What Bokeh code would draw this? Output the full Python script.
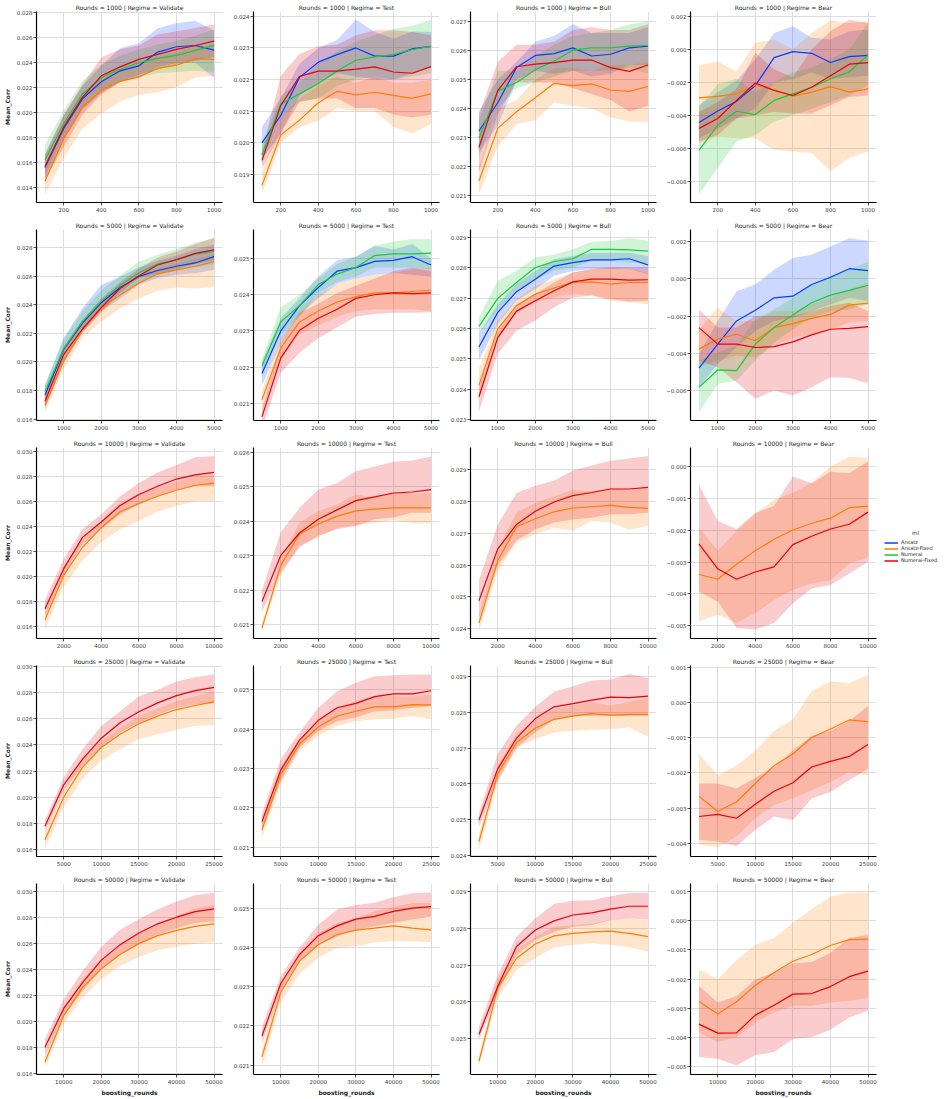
from bokeh.plotting import figure
from bokeh.layouts import gridplot
from bokeh.models import (Range1d, SingleIntervalTicker, FixedTicker,
                          CustomJSTickFormatter, Legend, LegendItem, Label)
from bokeh.embed import file_html
from bokeh.resources import INLINE

ROUNDS = [1000, 5000, 10000, 25000, 50000]
REGIMES = ["Validate", "Test", "Bull", "Bear"]
MODELS = ["Ansatz", "Ansatz-Fixed", "Numerai", "Numerai-Fixed"]
COLORS = {"Ansatz": "#023eff", "Ansatz-Fixed": "#ff7c00",
          "Numerai": "#1ac938", "Numerai-Fixed": "#e8000b"}

X_1000 = [100, 200, 300, 400, 500, 600, 700, 800, 900, 1000]
X_5000 = [500, 1000, 1500, 2000, 2500, 3000, 3500, 4000, 4500, 5000]
X_10000 = [1000, 2000, 3000, 4000, 5000, 6000, 7000, 8000, 9000, 10000]
X_25000 = [2500, 5000, 7500, 10000, 12500, 15000, 17500, 20000, 22500, 25000]
X_50000 = [5000, 10000, 15000, 20000, 25000, 30000, 35000, 40000, 45000, 50000]

XTICKS_1000 = [200, 400, 600, 800, 1000]
XTICKS_5000 = [1000, 2000, 3000, 4000, 5000]
XTICKS_10000 = [2000, 4000, 6000, 8000, 10000]
XTICKS_25000 = [5000, 10000, 15000, 20000, 25000]
XTICKS_50000 = [10000, 20000, 30000, 40000, 50000]

# ---------- Rounds = 1000 ----------
v1_ans_m = [0.01557, 0.01868, 0.02106, 0.02243, 0.0233, 0.0237, 0.0248, 0.02523, 0.02533, 0.02496]
v1_ans_lo = [0.01467, 0.01778, 0.02016, 0.02153, 0.0224, 0.0227, 0.0236, 0.02393, 0.02393, 0.02277]
v1_ans_hi = [0.0166, 0.0197, 0.0221, 0.0237, 0.0251, 0.0255, 0.0267, 0.0271, 0.0273, 0.0265]
v1_afx_m = [0.01446, 0.01789, 0.0204, 0.02172, 0.02246, 0.02283, 0.02349, 0.02375, 0.02428, 0.02422]
v1_afx_lo = [0.0134, 0.0163, 0.01868, 0.01987, 0.02085, 0.02137, 0.02158, 0.02198, 0.02277, 0.0229]
v1_afx_hi = [0.0155, 0.0190, 0.0215, 0.0228, 0.0235, 0.0238, 0.0245, 0.0248, 0.0253, 0.0253]
v1_num_m = [0.01617, 0.01908, 0.02145, 0.02277, 0.02343, 0.02396, 0.0243, 0.02454, 0.02494, 0.02536]
v1_num_lo = [0.0150, 0.0180, 0.0204, 0.0218, 0.0224, 0.0228, 0.0231, 0.0232, 0.0233, 0.0232]
v1_num_hi = [0.0174, 0.0201, 0.0225, 0.0238, 0.0245, 0.0250, 0.0254, 0.0257, 0.0261, 0.0266]
v1_nfx_m = [0.01564, 0.01881, 0.02119, 0.0229, 0.02362, 0.02422, 0.02462, 0.02502, 0.02533, 0.02568]
v1_nfx_lo = [0.0146, 0.0172, 0.0198, 0.0214, 0.0224, 0.0230, 0.0234, 0.0238, 0.0241, 0.0244]
v1_nfx_hi = [0.0166, 0.0198, 0.0222, 0.02436, 0.02502, 0.02533, 0.0262, 0.02647, 0.02673, 0.0270]

t1_ans_m = [0.0200, 0.02087, 0.02207, 0.02255, 0.02279, 0.0230, 0.02274, 0.02274, 0.02297, 0.02305]
t1_ans_lo = [0.0195, 0.0203, 0.0215, 0.0219, 0.0222, 0.0221, 0.0220, 0.0220, 0.0222, 0.0224]
t1_ans_hi = [0.0205, 0.0214, 0.0225, 0.0230, 0.02325, 0.0239, 0.0235, 0.0233, 0.02352, 0.0235]
t1_afx_m = [0.01866, 0.02025, 0.02072, 0.02127, 0.02163, 0.02152, 0.0216, 0.0215, 0.02141, 0.02155]
t1_afx_lo = [0.0184, 0.0200, 0.0205, 0.0207, 0.0211, 0.0210, 0.0210, 0.0205, 0.0203, 0.0206]
t1_afx_hi = [0.0191, 0.0208, 0.0214, 0.0218, 0.0221, 0.0219, 0.0221, 0.0219, 0.0219, 0.0220]
t1_num_m = [0.01962, 0.02123, 0.02155, 0.02188, 0.02227, 0.02261, 0.02272, 0.02279, 0.02295, 0.02305]
t1_num_lo = [0.0193, 0.0208, 0.0213, 0.0214, 0.0218, 0.0220, 0.0221, 0.0220, 0.0221, 0.0222]
t1_num_hi = [0.0199, 0.0215, 0.0219, 0.0225, 0.0229, 0.0232, 0.0234, 0.0236, 0.0237, 0.0239]
t1_nfx_m = [0.01945, 0.02118, 0.0221, 0.02227, 0.02227, 0.02233, 0.0224, 0.02224, 0.0222, 0.02241]
t1_nfx_lo = [0.0192, 0.0203, 0.0213, 0.0214, 0.0214, 0.0211, 0.0211, 0.0209, 0.0208, 0.0209]
t1_nfx_hi = [0.0197, 0.02212, 0.02281, 0.02305, 0.0231, 0.0234, 0.02356, 0.02356, 0.0235, 0.0234]

b1_ans_m = [0.02323, 0.0242, 0.02541, 0.02583, 0.02589, 0.02609, 0.02581, 0.02587, 0.02609, 0.02615]
b1_ans_lo = [0.0225, 0.0234, 0.0250, 0.0253, 0.0252, 0.0253, 0.0251, 0.0252, 0.0255, 0.0255]
b1_ans_hi = [0.0239, 0.0250, 0.0256, 0.0263, 0.0265, 0.0269, 0.0266, 0.0266, 0.0266, 0.0268]
b1_afx_m = [0.02151, 0.02332, 0.02389, 0.02437, 0.02487, 0.02479, 0.02485, 0.02464, 0.02459, 0.02476]
b1_afx_lo = [0.02105, 0.0227, 0.02347, 0.0236, 0.0242, 0.0241, 0.0240, 0.0237, 0.02355, 0.02355]
b1_afx_hi = [0.0220, 0.0240, 0.0243, 0.0250, 0.0254, 0.0254, 0.0253, 0.0255, 0.0255, 0.0256]
b1_num_m = [0.02298, 0.0246, 0.0249, 0.02534, 0.02564, 0.02601, 0.02609, 0.02609, 0.02615, 0.02617]
b1_num_lo = [0.0223, 0.0240, 0.0247, 0.0249, 0.0251, 0.0253, 0.0253, 0.0253, 0.0254, 0.0252]
b1_num_hi = [0.0236, 0.0253, 0.0253, 0.0258, 0.0262, 0.0265, 0.0266, 0.0267, 0.0269, 0.0270]
b1_nfx_m = [0.02266, 0.02462, 0.02544, 0.02553, 0.02558, 0.02567, 0.02567, 0.02541, 0.02528, 0.0255]
b1_nfx_lo = [0.0218, 0.0238, 0.0249, 0.0249, 0.0249, 0.0247, 0.0245, 0.0243, 0.0239, 0.0241]
b1_nfx_hi = [0.0238, 0.0256, 0.0262, 0.0262, 0.0263, 0.0267, 0.0268, 0.0267, 0.0267, 0.0269]

r1_ans_m = [-0.00444, -0.00374, -0.00316, -0.0022, -0.0005, -0.00014, -0.00024, -0.0008, -0.00044, -0.00036]
r1_ans_lo = [-0.0054, -0.0048, -0.0042, -0.0036, -0.0020, -0.0018, -0.0014, -0.0018, -0.0017, -0.0016]
r1_ans_hi = [-0.0034, -0.0026, -0.0019, -0.0006, 0.0010, 0.0014, 0.0007, 0.0006, 0.0011, 0.0012]
r1_afx_m = [-0.00294, -0.00286, -0.0027, -0.00216, -0.00246, -0.00284, -0.0026, -0.00226, -0.0026, -0.0024]
r1_afx_lo = [-0.0057, -0.0053, -0.0054, -0.0054, -0.0061, -0.0062, -0.0063, -0.0074, -0.0066, -0.0062]
r1_afx_hi = [-0.00096, -0.00074, -0.00136, 0.0004, 0.0006, 0.0, 0.0010, 0.00176, 0.0016, 0.0017]
r1_num_m = [-0.00614, -0.0046, -0.00376, -0.00396, -0.0031, -0.0027, -0.0023, -0.0018, -0.00136, -0.00036]
r1_num_lo = [-0.0088, -0.0072, -0.0056, -0.0052, -0.0044, -0.0040, -0.0036, -0.0032, -0.0028, -0.0022]
r1_num_hi = [-0.0035, -0.0021, -0.0018, -0.0026, -0.0020, -0.0014, -0.0011, -0.0006, 0.0, 0.0016]
r1_nfx_m = [-0.0048, -0.0042, -0.0031, -0.00204, -0.0025, -0.0028, -0.0023, -0.0016, -0.0009, -0.0008]
r1_nfx_lo = [-0.0056, -0.0052, -0.0042, -0.0040, -0.0038, -0.0039, -0.0039, -0.0034, -0.0029, -0.0028]
r1_nfx_hi = [-0.0038, -0.0032, -0.0024, -0.0002, -0.0012, -0.0017, 0.0, 0.0011, 0.0018, 0.0016]

# ---------- Rounds = 5000 ----------
v5_ans_m = [0.01766, 0.02087, 0.02271, 0.02414, 0.0252, 0.02598, 0.02639, 0.02669, 0.02692, 0.02736]
v5_ans_lo = [0.01674, 0.0200, 0.02207, 0.02356, 0.02442, 0.02541, 0.02586, 0.02609, 0.0262, 0.02644]
v5_ans_hi = [0.01834, 0.02168, 0.02375, 0.0254, 0.02593, 0.02662, 0.02708, 0.02743, 0.02789, 0.0282]
v5_afx_m = [0.01697, 0.02007, 0.02225, 0.02375, 0.02467, 0.02552, 0.02616, 0.02644, 0.02669, 0.02701]
v5_afx_lo = [0.0165, 0.0195, 0.02168, 0.02283, 0.02375, 0.02444, 0.02497, 0.0252, 0.02513, 0.02524]
v5_afx_hi = [0.01731, 0.02053, 0.0226, 0.02421, 0.02513, 0.02605, 0.02662, 0.02685, 0.0272, 0.02754]
v5_num_m = [0.01793, 0.02092, 0.02283, 0.02425, 0.02536, 0.02623, 0.02685, 0.02713, 0.02754, 0.02772]
v5_num_lo = [0.01743, 0.02041, 0.02225, 0.02363, 0.02467, 0.02547, 0.02611, 0.02639, 0.02662, 0.02685]
v5_num_hi = [0.01846, 0.02156, 0.02352, 0.02501, 0.02605, 0.02701, 0.02749, 0.02789, 0.02834, 0.02864]
v5_nfx_m = [0.01724, 0.02053, 0.0223, 0.02379, 0.02513, 0.02602, 0.02678, 0.02715, 0.02759, 0.02784]
v5_nfx_lo = [0.01674, 0.0200, 0.02207, 0.02345, 0.02483, 0.02586, 0.02616, 0.02651, 0.02685, 0.02708]
v5_nfx_hi = [0.01777, 0.0211, 0.02294, 0.02444, 0.02559, 0.02651, 0.02731, 0.02772, 0.02823, 0.02869]

t5_ans_m = [0.02183, 0.0230, 0.0237, 0.0242, 0.02465, 0.02475, 0.02492, 0.02495, 0.02505, 0.02482]
t5_ans_lo = [0.0215, 0.02265, 0.02345, 0.0239, 0.0243, 0.02445, 0.02455, 0.0246, 0.02455, 0.0245]
t5_ans_hi = [0.02215, 0.02335, 0.0239, 0.0245, 0.02495, 0.02505, 0.02535, 0.02525, 0.0254, 0.0250]
t5_afx_m = [0.0211, 0.02253, 0.02325, 0.02355, 0.0238, 0.02395, 0.02405, 0.02405, 0.02409, 0.02413]
t5_afx_lo = [0.0208, 0.0222, 0.0229, 0.02315, 0.0234, 0.02355, 0.0236, 0.0236, 0.0236, 0.02355]
t5_afx_hi = [0.02135, 0.0228, 0.02355, 0.0240, 0.0243, 0.02445, 0.02455, 0.0246, 0.0247, 0.02475]
t5_num_m = [0.02203, 0.02325, 0.0237, 0.02428, 0.02457, 0.02475, 0.02508, 0.02513, 0.02513, 0.02515]
t5_num_lo = [0.0218, 0.0229, 0.0234, 0.02404, 0.02435, 0.0245, 0.02475, 0.02475, 0.02475, 0.0247]
t5_num_hi = [0.02225, 0.02365, 0.0240, 0.02445, 0.02485, 0.02505, 0.02535, 0.02547, 0.02553, 0.02553]
t5_nfx_m = [0.02063, 0.02225, 0.02302, 0.02335, 0.0236, 0.0239, 0.0240, 0.02405, 0.02403, 0.02405]
t5_nfx_lo = [0.0203, 0.02185, 0.0224, 0.0228, 0.0231, 0.0234, 0.02347, 0.0235, 0.0235, 0.02352]
t5_nfx_hi = [0.02085, 0.02265, 0.0235, 0.02375, 0.02405, 0.02425, 0.02445, 0.02465, 0.02475, 0.02465]

b5_ans_m = [0.02539, 0.02653, 0.02721, 0.02762, 0.02805, 0.02816, 0.02825, 0.02825, 0.02829, 0.02809]
b5_ans_lo = [0.02496, 0.02615, 0.02691, 0.02729, 0.02773, 0.02789, 0.02795, 0.02795, 0.02795, 0.02778]
b5_ans_hi = [0.02583, 0.0268, 0.02746, 0.02789, 0.02827, 0.02838, 0.02849, 0.02849, 0.02849, 0.02838]
b5_afx_m = [0.02414, 0.02599, 0.02675, 0.02713, 0.02733, 0.02751, 0.02753, 0.02746, 0.02751, 0.02751]
b5_afx_lo = [0.02365, 0.02566, 0.02648, 0.02686, 0.02702, 0.02713, 0.02708, 0.02691, 0.02686, 0.0268]
b5_afx_hi = [0.02468, 0.02626, 0.02697, 0.0274, 0.02762, 0.02784, 0.02795, 0.0280, 0.02795, 0.02784]
b5_num_m = [0.02607, 0.02699, 0.02751, 0.0280, 0.0282, 0.02829, 0.0286, 0.0286, 0.02858, 0.02854]
b5_num_lo = [0.02583, 0.02659, 0.02724, 0.02762, 0.02789, 0.0280, 0.02822, 0.02822, 0.02816, 0.02816]
b5_num_hi = [0.02637, 0.02757, 0.02789, 0.02833, 0.02843, 0.0286, 0.02885, 0.02887, 0.02896, 0.02889]
b5_nfx_m = [0.02376, 0.0257, 0.02657, 0.02691, 0.02724, 0.02753, 0.02762, 0.02762, 0.02759, 0.0276]
b5_nfx_lo = [0.02327, 0.02517, 0.02593, 0.02626, 0.0267, 0.02702, 0.02708, 0.02697, 0.02689, 0.02691]
b5_nfx_hi = [0.02409, 0.02593, 0.0268, 0.02713, 0.02751, 0.02784, 0.02795, 0.0280, 0.0280, 0.0280]

r5_ans_m = [-0.0048, -0.00351, -0.00226, -0.00169, -0.00102, -0.00093, -0.0003, 0.00009, 0.00055, 0.00045]
r5_ans_lo = [-0.00583, -0.00458, -0.00369, -0.0028, -0.00226, -0.00209, -0.00173, -0.00137, -0.00102, -0.00119]
r5_ans_hi = [-0.00405, -0.00226, -0.00066, -0.0003, 0.0005, 0.00112, 0.0013, 0.00175, 0.00219, 0.00205]
r5_afx_m = [-0.00378, -0.00324, -0.00298, -0.00333, -0.00262, -0.00241, -0.00212, -0.00191, -0.00141, -0.0013]
r5_afx_lo = [-0.00476, -0.0044, -0.00414, -0.00422, -0.0036, -0.00316, -0.00298, -0.00271, -0.00235, -0.00226]
r5_afx_hi = [-0.00271, -0.00155, -0.00226, -0.00226, -0.00173, -0.00173, -0.00137, -0.00102, -0.00057, -0.00021]
r5_num_m = [-0.00583, -0.0049, -0.00494, -0.00351, -0.00262, -0.00194, -0.00128, -0.00087, -0.00062, -0.00034]
r5_num_lo = [-0.00717, -0.00565, -0.00547, -0.0044, -0.00342, -0.00271, -0.00209, -0.00173, -0.00164, -0.00137]
r5_num_hi = [-0.0044, -0.00396, -0.0036, -0.00217, -0.00164, -0.00102, -0.0003, 0.00014, 0.0005, 0.00094]
r5_nfx_m = [-0.00262, -0.00351, -0.00351, -0.00369, -0.00364, -0.00339, -0.00301, -0.00271, -0.00266, -0.00257]
r5_nfx_lo = [-0.0044, -0.00476, -0.00556, -0.00645, -0.0060, -0.00627, -0.00583, -0.00529, -0.00533, -0.00561]
r5_nfx_hi = [-0.00164, -0.00262, -0.00262, -0.0020, -0.0020, -0.0020, -0.00173, -0.00146, -0.00128, -0.00173]

# ---------- Rounds = 10000 ----------
v10_afx_m = [0.01653, 0.0201, 0.02234, 0.02392, 0.02519, 0.02585, 0.02643, 0.02691, 0.02731, 0.02749]
v10_afx_lo = [0.01574, 0.01917, 0.02128, 0.02274, 0.02379, 0.02445, 0.02519, 0.02564, 0.02604, 0.02604]
v10_afx_hi = [0.01732, 0.02076, 0.0230, 0.02445, 0.02591, 0.02657, 0.02709, 0.02762, 0.02802, 0.02815]
v10_nfx_m = [0.0174, 0.02062, 0.02313, 0.02437, 0.02569, 0.02657, 0.02723, 0.02781, 0.02815, 0.02834]
v10_nfx_lo = [0.01679, 0.0201, 0.0226, 0.02379, 0.02498, 0.02577, 0.02643, 0.02696, 0.02723, 0.02723]
v10_nfx_hi = [0.01811, 0.02142, 0.02379, 0.02498, 0.02643, 0.02749, 0.02834, 0.02894, 0.02955, 0.02966]

t10_afx_m = [0.0209, 0.02272, 0.02363, 0.02392, 0.02415, 0.0243, 0.02435, 0.02439, 0.02439, 0.02439]
t10_afx_lo = [0.02082, 0.02243, 0.0233, 0.02353, 0.02382, 0.02387, 0.02396, 0.02404, 0.02394, 0.02394]
t10_afx_hi = [0.02102, 0.02291, 0.02396, 0.0243, 0.02449, 0.02478, 0.02468, 0.02482, 0.02482, 0.02482]
t10_nfx_m = [0.02167, 0.02301, 0.02366, 0.02406, 0.02433, 0.0246, 0.02471, 0.02482, 0.02485, 0.02492]
t10_nfx_lo = [0.02138, 0.02253, 0.02325, 0.02358, 0.02377, 0.02387, 0.02406, 0.02411, 0.02425, 0.02425]
t10_nfx_hi = [0.0220, 0.02368, 0.02439, 0.02492, 0.02511, 0.02545, 0.02559, 0.02573, 0.02576, 0.02588]

b10_afx_m = [0.02417, 0.02614, 0.02721, 0.02746, 0.02768, 0.0278, 0.02784, 0.02788, 0.02782, 0.02779]
b10_afx_lo = [0.02393, 0.02583, 0.02671, 0.02697, 0.02718, 0.02708, 0.02739, 0.02734, 0.02711, 0.02723]
b10_afx_hi = [0.02443, 0.02651, 0.02765, 0.02796, 0.02817, 0.02838, 0.02832, 0.02843, 0.02838, 0.02843]
b10_nfx_m = [0.02487, 0.02651, 0.02728, 0.0277, 0.02799, 0.02819, 0.02829, 0.0284, 0.0284, 0.02845]
b10_nfx_lo = [0.02432, 0.02599, 0.02677, 0.02713, 0.02734, 0.02744, 0.02749, 0.0276, 0.0276, 0.02765]
b10_nfx_hi = [0.02552, 0.02728, 0.02827, 0.0285, 0.02867, 0.02898, 0.02914, 0.02929, 0.02936, 0.02944]

r10_afx_m = [-0.00339, -0.00354, -0.00307, -0.00264, -0.00228, -0.00199, -0.00178, -0.00162, -0.00129, -0.00124]
r10_afx_lo = [-0.00486, -0.00465, -0.00491, -0.0046, -0.00419, -0.00388, -0.00367, -0.00357, -0.00305, -0.00284]
r10_afx_hi = [-0.00191, -0.00264, -0.00202, -0.0015, -0.00103, -0.00083, -0.0005, 0.0, 0.00031, 0.00028]
r10_nfx_m = [-0.00243, -0.00321, -0.00354, -0.00331, -0.00315, -0.00245, -0.00219, -0.00196, -0.00181, -0.00143]
r10_nfx_lo = [-0.00393, -0.00424, -0.00507, -0.00512, -0.00491, -0.00429, -0.00383, -0.00372, -0.00336, -0.0030]
r10_nfx_hi = [-0.00057, -0.00171, -0.00196, -0.00145, -0.00124, -0.00031, -0.00052, -0.00016, -0.00021, 0.00016]

# ---------- Rounds = 25000 ----------
v25_afx_m = [0.01673, 0.02002, 0.02229, 0.02381, 0.02482, 0.02563, 0.02621, 0.02671, 0.02702, 0.0273]
v25_afx_lo = [0.0161, 0.01926, 0.02141, 0.0228, 0.02368, 0.02444, 0.02482, 0.02515, 0.02545, 0.02553]
v25_afx_hi = [0.01736, 0.02065, 0.02292, 0.02431, 0.02532, 0.02621, 0.02679, 0.02735, 0.02773, 0.0281]
v25_nfx_m = [0.01779, 0.02095, 0.02292, 0.02452, 0.0257, 0.02654, 0.02722, 0.02778, 0.02816, 0.02841]
v25_nfx_lo = [0.01736, 0.02052, 0.02242, 0.02381, 0.02495, 0.0257, 0.02634, 0.02684, 0.02709, 0.02722]
v25_nfx_hi = [0.01825, 0.02153, 0.02368, 0.02545, 0.02659, 0.02773, 0.02823, 0.02886, 0.02919, 0.02942]

t25_afx_m = [0.02144, 0.02284, 0.02362, 0.02405, 0.02433, 0.02445, 0.02456, 0.02456, 0.02462, 0.02461]
t25_afx_lo = [0.02123, 0.02261, 0.02345, 0.02383, 0.02408, 0.0242, 0.02425, 0.02426, 0.02433, 0.02425]
t25_afx_hi = [0.0216, 0.02303, 0.02374, 0.02425, 0.02454, 0.02471, 0.02483, 0.02483, 0.02483, 0.02487]
t25_nfx_m = [0.02165, 0.02296, 0.02372, 0.02422, 0.02454, 0.02465, 0.02482, 0.02489, 0.02489, 0.02497]
t25_nfx_lo = [0.02144, 0.02269, 0.02353, 0.02395, 0.0242, 0.02429, 0.02445, 0.02447, 0.02454, 0.02458]
t25_nfx_hi = [0.02186, 0.02324, 0.02391, 0.02454, 0.02496, 0.02517, 0.02534, 0.02536, 0.02538, 0.02538]

b25_afx_m = [0.02438, 0.02628, 0.02716, 0.02756, 0.02781, 0.0279, 0.02797, 0.02793, 0.02795, 0.02795]
b25_afx_lo = [0.02415, 0.02605, 0.02702, 0.02726, 0.02744, 0.02749, 0.02752, 0.02753, 0.02758, 0.02732]
b25_afx_hi = [0.0246, 0.0265, 0.0274, 0.0278, 0.0281, 0.0282, 0.0283, 0.0282, 0.0283, 0.0284]
b25_nfx_m = [0.02498, 0.02642, 0.02728, 0.02783, 0.02816, 0.02825, 0.02835, 0.02843, 0.02842, 0.02846]
b25_nfx_lo = [0.0248, 0.0261, 0.0270, 0.02745, 0.0278, 0.0279, 0.0279, 0.0279, 0.0279, 0.0279]
b25_nfx_hi = [0.02519, 0.02684, 0.02763, 0.02816, 0.02858, 0.02874, 0.0289, 0.02893, 0.02908, 0.02897]

r25_afx_m = [-0.00266, -0.0031, -0.00282, -0.0023, -0.00179, -0.00146, -0.00099, -0.00075, -0.00049, -0.00054]
r25_afx_lo = [-0.00404, -0.00412, -0.00381, -0.00329, -0.00291, -0.00273, -0.00249, -0.00226, -0.00197, -0.00207]
r25_afx_hi = [-0.00146, -0.00207, -0.00179, -0.00136, -0.0008, -0.00047, 0.00033, 0.00061, 0.00056, 0.0008]
r25_nfx_m = [-0.00324, -0.00318, -0.00329, -0.00289, -0.00252, -0.00228, -0.00183, -0.00167, -0.00153, -0.00119]
r25_nfx_lo = [-0.0039, -0.00395, -0.00409, -0.00362, -0.00324, -0.00334, -0.00273, -0.00254, -0.00221, -0.00188]
r25_nfx_hi = [-0.0023, -0.0023, -0.00244, -0.00214, -0.00183, -0.00136, -0.00094, -0.0008, -0.00052, -0.00009]

# ---------- Rounds = 50000 ----------
v50_afx_m = [0.01686, 0.02042, 0.02258, 0.02403, 0.02512, 0.02596, 0.02657, 0.02698, 0.02728, 0.02748]
v50_afx_lo = [0.01648, 0.01979, 0.02182, 0.02322, 0.02423, 0.02494, 0.02545, 0.02571, 0.02596, 0.02606]
v50_afx_hi = [0.01737, 0.02106, 0.02322, 0.02474, 0.02588, 0.02677, 0.02741, 0.02804, 0.02868, 0.02893]
v50_nfx_m = [0.0180, 0.02098, 0.02296, 0.02469, 0.02588, 0.02677, 0.02748, 0.02799, 0.02842, 0.02863]
v50_nfx_lo = [0.01737, 0.02042, 0.02233, 0.02403, 0.02512, 0.02596, 0.02665, 0.02715, 0.02754, 0.02766]
v50_nfx_hi = [0.01864, 0.02169, 0.02385, 0.02571, 0.02703, 0.02784, 0.02861, 0.02919, 0.0297, 0.02987]

t50_afx_m = [0.02121, 0.02285, 0.02365, 0.02407, 0.02433, 0.02444, 0.02449, 0.02455, 0.02449, 0.02445]
t50_afx_lo = [0.02096, 0.0226, 0.02332, 0.02374, 0.02399, 0.02403, 0.02413, 0.02416, 0.02416, 0.02413]
t50_afx_hi = [0.02138, 0.02311, 0.02386, 0.02437, 0.02462, 0.02475, 0.02492, 0.02504, 0.02513, 0.02513]
t50_nfx_m = [0.02174, 0.02308, 0.02382, 0.0243, 0.02455, 0.02472, 0.02479, 0.02492, 0.0250, 0.02504]
t50_nfx_lo = [0.02155, 0.02289, 0.02365, 0.02407, 0.02428, 0.02445, 0.02454, 0.02462, 0.02471, 0.02479]
t50_nfx_hi = [0.02197, 0.02327, 0.02399, 0.02458, 0.02497, 0.02508, 0.02514, 0.02528, 0.02538, 0.0254]

b50_afx_m = [0.02438, 0.02638, 0.02719, 0.02758, 0.0278, 0.02787, 0.02791, 0.02793, 0.02787, 0.02778]
b50_afx_lo = [0.02425, 0.0261, 0.02687, 0.02719, 0.02749, 0.02755, 0.0276, 0.02755, 0.02749, 0.02737]
b50_afx_hi = [0.02452, 0.0266, 0.02742, 0.02778, 0.02805, 0.0281, 0.02814, 0.02823, 0.02828, 0.02823]
b50_nfx_m = [0.02511, 0.02642, 0.02751, 0.02796, 0.02821, 0.02837, 0.02843, 0.02853, 0.02861, 0.02861]
b50_nfx_lo = [0.02497, 0.02624, 0.02728, 0.02769, 0.02791, 0.02805, 0.0281, 0.02823, 0.02828, 0.02825]
b50_nfx_hi = [0.02533, 0.02674, 0.02778, 0.02828, 0.02868, 0.02876, 0.02877, 0.02888, 0.02897, 0.02897]

r50_afx_m = [-0.00277, -0.0032, -0.00278, -0.00222, -0.00178, -0.00139, -0.00116, -0.00085, -0.00065, -0.00063]
r50_afx_lo = [-0.00383, -0.00417, -0.0040, -0.00349, -0.00315, -0.00292, -0.00292, -0.00281, -0.00275, -0.00264]
r50_afx_hi = [-0.00167, -0.00201, -0.00135, -0.00082, -0.00059, -0.00008, 0.0004, 0.00083, 0.00097, 0.00097]
r50_nfx_m = [-0.00355, -0.00386, -0.00385, -0.00324, -0.0029, -0.00252, -0.0025, -0.00226, -0.00192, -0.00173]
r50_nfx_lo = [-0.00468, -0.00474, -0.00497, -0.00462, -0.00451, -0.00406, -0.0040, -0.00374, -0.00332, -0.00309]
r50_nfx_hi = [-0.00224, -0.00281, -0.00258, -0.00201, -0.00178, -0.00147, -0.00142, -0.0011, -0.00059, -0.00048]

# y-axis extents per panel (row = rounds, col = regime)
Y_RANGES = [
    [(0.01276, 0.02805), (0.01812, 0.02415), (0.02077, 0.02734), (-0.0093, 0.0023)],
    [(0.0159, 0.02926), (0.02053, 0.0258), (0.02298, 0.02925), (-0.00762, 0.00266)],
    [(0.01502, 0.03034), (0.0206, 0.02614), (0.02368, 0.02971), (-0.0054, 0.0006)],
    [(0.01547, 0.03008), (0.02077, 0.02561), (0.02396, 0.02932), (-0.00438, 0.00106)],
    [(0.0159, 0.03058), (0.02076, 0.02563), (0.02402, 0.02923), (-0.00528, 0.00128)],
]
Y_STEPS = [
    [0.002, 0.001, 0.001, 0.002],
    [0.002, 0.001, 0.001, 0.002],
    [0.002, 0.001, 0.001, 0.001],
    [0.002, 0.001, 0.001, 0.001],
    [0.002, 0.001, 0.001, 0.001],
]

XS = [X_1000, X_5000, X_10000, X_25000, X_50000]
XTICKS = [XTICKS_1000, XTICKS_5000, XTICKS_10000, XTICKS_25000, XTICKS_50000]

PANELS = [
    [
        [("Ansatz", v1_ans_m, v1_ans_lo, v1_ans_hi), ("Ansatz-Fixed", v1_afx_m, v1_afx_lo, v1_afx_hi),
         ("Numerai", v1_num_m, v1_num_lo, v1_num_hi), ("Numerai-Fixed", v1_nfx_m, v1_nfx_lo, v1_nfx_hi)],
        [("Ansatz", t1_ans_m, t1_ans_lo, t1_ans_hi), ("Ansatz-Fixed", t1_afx_m, t1_afx_lo, t1_afx_hi),
         ("Numerai", t1_num_m, t1_num_lo, t1_num_hi), ("Numerai-Fixed", t1_nfx_m, t1_nfx_lo, t1_nfx_hi)],
        [("Ansatz", b1_ans_m, b1_ans_lo, b1_ans_hi), ("Ansatz-Fixed", b1_afx_m, b1_afx_lo, b1_afx_hi),
         ("Numerai", b1_num_m, b1_num_lo, b1_num_hi), ("Numerai-Fixed", b1_nfx_m, b1_nfx_lo, b1_nfx_hi)],
        [("Ansatz", r1_ans_m, r1_ans_lo, r1_ans_hi), ("Ansatz-Fixed", r1_afx_m, r1_afx_lo, r1_afx_hi),
         ("Numerai", r1_num_m, r1_num_lo, r1_num_hi), ("Numerai-Fixed", r1_nfx_m, r1_nfx_lo, r1_nfx_hi)],
    ],
    [
        [("Ansatz", v5_ans_m, v5_ans_lo, v5_ans_hi), ("Ansatz-Fixed", v5_afx_m, v5_afx_lo, v5_afx_hi),
         ("Numerai", v5_num_m, v5_num_lo, v5_num_hi), ("Numerai-Fixed", v5_nfx_m, v5_nfx_lo, v5_nfx_hi)],
        [("Ansatz", t5_ans_m, t5_ans_lo, t5_ans_hi), ("Ansatz-Fixed", t5_afx_m, t5_afx_lo, t5_afx_hi),
         ("Numerai", t5_num_m, t5_num_lo, t5_num_hi), ("Numerai-Fixed", t5_nfx_m, t5_nfx_lo, t5_nfx_hi)],
        [("Ansatz", b5_ans_m, b5_ans_lo, b5_ans_hi), ("Ansatz-Fixed", b5_afx_m, b5_afx_lo, b5_afx_hi),
         ("Numerai", b5_num_m, b5_num_lo, b5_num_hi), ("Numerai-Fixed", b5_nfx_m, b5_nfx_lo, b5_nfx_hi)],
        [("Ansatz", r5_ans_m, r5_ans_lo, r5_ans_hi), ("Ansatz-Fixed", r5_afx_m, r5_afx_lo, r5_afx_hi),
         ("Numerai", r5_num_m, r5_num_lo, r5_num_hi), ("Numerai-Fixed", r5_nfx_m, r5_nfx_lo, r5_nfx_hi)],
    ],
    [
        [("Ansatz-Fixed", v10_afx_m, v10_afx_lo, v10_afx_hi), ("Numerai-Fixed", v10_nfx_m, v10_nfx_lo, v10_nfx_hi)],
        [("Ansatz-Fixed", t10_afx_m, t10_afx_lo, t10_afx_hi), ("Numerai-Fixed", t10_nfx_m, t10_nfx_lo, t10_nfx_hi)],
        [("Ansatz-Fixed", b10_afx_m, b10_afx_lo, b10_afx_hi), ("Numerai-Fixed", b10_nfx_m, b10_nfx_lo, b10_nfx_hi)],
        [("Ansatz-Fixed", r10_afx_m, r10_afx_lo, r10_afx_hi), ("Numerai-Fixed", r10_nfx_m, r10_nfx_lo, r10_nfx_hi)],
    ],
    [
        [("Ansatz-Fixed", v25_afx_m, v25_afx_lo, v25_afx_hi), ("Numerai-Fixed", v25_nfx_m, v25_nfx_lo, v25_nfx_hi)],
        [("Ansatz-Fixed", t25_afx_m, t25_afx_lo, t25_afx_hi), ("Numerai-Fixed", t25_nfx_m, t25_nfx_lo, t25_nfx_hi)],
        [("Ansatz-Fixed", b25_afx_m, b25_afx_lo, b25_afx_hi), ("Numerai-Fixed", b25_nfx_m, b25_nfx_lo, b25_nfx_hi)],
        [("Ansatz-Fixed", r25_afx_m, r25_afx_lo, r25_afx_hi), ("Numerai-Fixed", r25_nfx_m, r25_nfx_lo, r25_nfx_hi)],
    ],
    [
        [("Ansatz-Fixed", v50_afx_m, v50_afx_lo, v50_afx_hi), ("Numerai-Fixed", v50_nfx_m, v50_nfx_lo, v50_nfx_hi)],
        [("Ansatz-Fixed", t50_afx_m, t50_afx_lo, t50_afx_hi), ("Numerai-Fixed", t50_nfx_m, t50_nfx_lo, t50_nfx_hi)],
        [("Ansatz-Fixed", b50_afx_m, b50_afx_lo, b50_afx_hi), ("Numerai-Fixed", b50_nfx_m, b50_nfx_lo, b50_nfx_hi)],
        [("Ansatz-Fixed", r50_afx_m, r50_afx_lo, r50_afx_hi), ("Numerai-Fixed", r50_nfx_m, r50_nfx_lo, r50_nfx_hi)],
    ],
]

FONT = "DejaVu Sans"
TXT = "#262626"
FMT = CustomJSTickFormatter(code="return tick.toFixed(3).replace('-', '\u2212');")


def make_panel(ri, ci):
    xs = XS[ri]
    span = xs[-1] - xs[0]
    ylo, yhi = Y_RANGES[ri][ci]
    last_row = ri == len(ROUNDS) - 1
    p = figure(frame_width=186, frame_height=191,
               x_range=Range1d(xs[0] - 0.05 * span, xs[-1] + 0.05 * span),
               y_range=Range1d(ylo, yhi),
               output_backend="svg", toolbar_location=None,
               min_border_left=30 if ci == 0 else 24, min_border_right=7,
               min_border_top=10, min_border_bottom=21 if last_row else 16)
    p.outline_line_color = None
    p.background_fill_color = "white"
    p.title.text = f"Rounds = {ROUNDS[ri]} | Regime = {REGIMES[ci]}"
    p.title.align = "center"
    p.title.text_font = FONT
    p.title.text_font_size = "6px"
    p.title.text_font_style = "normal"
    p.title.text_color = TXT
    p.title.standoff = 2

    p.xaxis.ticker = FixedTicker(ticks=XTICKS[ri])
    p.yaxis.ticker = SingleIntervalTicker(interval=Y_STEPS[ri][ci], num_minor_ticks=0)
    p.yaxis.formatter = FMT
    for ax in (p.xaxis[0], p.yaxis[0]):
        ax.axis_line_color = "black"
        ax.axis_line_width = 1.2
        ax.major_tick_line_color = TXT
        ax.major_tick_line_width = 0.8
        ax.major_tick_out = 3
        ax.major_tick_in = 0
        ax.minor_tick_out = 0
        ax.minor_tick_in = 0
        ax.major_label_text_font = FONT
        ax.major_label_text_font_size = "5.5px"
        ax.major_label_text_color = "#3a3a3a"
        ax.major_label_standoff = 1
        ax.axis_label_text_font = FONT
        ax.axis_label_text_font_size = "6px"
        ax.axis_label_text_font_style = "bold"
        ax.axis_label_text_color = TXT
        ax.axis_label_standoff = 3
    if ci == 0:
        p.yaxis.axis_label = "Mean_Corr"
    if last_row:
        p.xaxis.axis_label = "boosting_rounds"
        p.xaxis.axis_label_standoff = 2
    p.grid.grid_line_color = "#dddddd"
    p.grid.grid_line_width = 1

    series = PANELS[ri][ci]
    for name, m, lo, hi in series:
        p.varea(x=xs, y1=lo, y2=hi, fill_color=COLORS[name], fill_alpha=0.2)
    for name, m, lo, hi in series:
        p.line(x=xs, y=m, line_color=COLORS[name], line_width=1.2)
    return p


def make_legend_fig():
    # the key lives in its own narrow figure; its line renderers carry the
    # Rounds = 1000 / Validate series, which lie outside this figure's 0..1 view
    p = figure(width=62, height=217, output_backend="svg", toolbar_location=None,
               x_range=Range1d(0, 1), y_range=Range1d(0, 1),
               x_axis_location=None, y_axis_location=None,
               min_border_left=0, min_border_right=0, min_border_top=0, min_border_bottom=0)
    p.outline_line_color = None
    p.grid.visible = False
    key_series = {"Ansatz": v1_ans_m, "Ansatz-Fixed": v1_afx_m,
                  "Numerai": v1_num_m, "Numerai-Fixed": v1_nfx_m}
    items = []
    for name in MODELS:
        r = p.line(x=X_1000, y=key_series[name], line_color=COLORS[name], line_width=1.5)
        items.append(LegendItem(label=name, renderers=[r]))
    leg = Legend(items=items, location=(1, 74))
    leg.label_text_font = FONT
    leg.label_text_font_size = "5px"
    leg.label_text_color = TXT
    leg.glyph_width = 14
    leg.glyph_height = 5
    leg.label_height = 5
    leg.label_standoff = 3
    leg.spacing = 0
    leg.padding = 0
    leg.margin = 0
    leg.border_line_color = None
    leg.background_fill_alpha = 0
    p.add_layout(leg, "center")
    p.add_layout(Label(x=32, y=105, x_units="screen", y_units="screen", text="ml",
                       text_align="center", text_baseline="middle",
                       text_font=FONT, text_font_size="5.5px", text_color=TXT))
    return p


grid = [[make_panel(ri, ci) for ci in range(4)] + [None] for ri in range(5)]
grid[2][4] = make_legend_fig()
layout = gridplot(grid, toolbar_location=None)

open("out.html", "w").write(file_html(layout, INLINE))
